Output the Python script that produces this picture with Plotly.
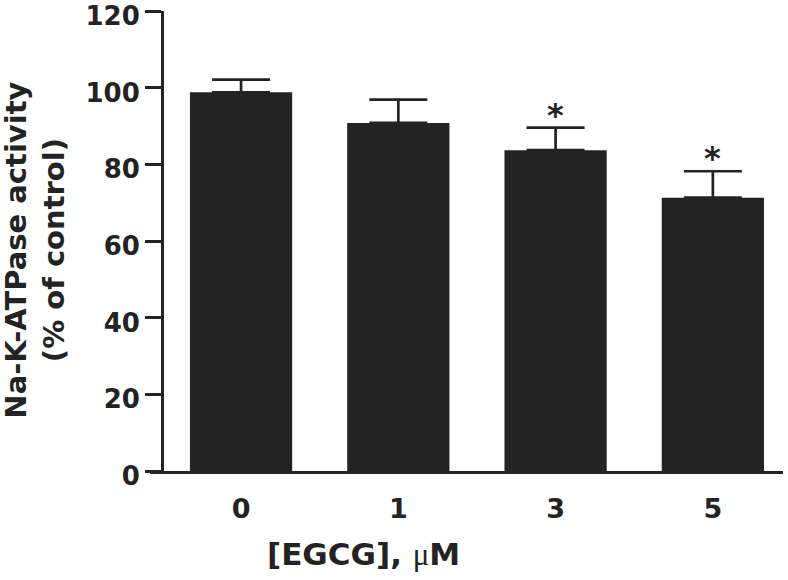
import plotly.graph_objects as go

doses = ["0", "1", "3", "5"]
means = [98.8, 90.8, 83.7, 71.3]
errs = [3.3, 6.1, 5.9, 6.9]
significant = [False, False, True, True]
y_ticks = [0, 20, 40, 60, 80, 100, 120]

INK = "#232323"
FONT = "DejaVu Sans, Liberation Sans, Arial, sans-serif"

fig = go.Figure()
fig.add_trace(go.Bar(
    x=doses, y=means, width=0.65,
    marker=dict(color=INK, line=dict(width=0)),
    error_y=dict(type="data", array=errs, arrayminus=[0] * len(errs), symmetric=False,
                 color=INK, thickness=2.7, width=29),
    showlegend=False,
))

for i, (m, e, s) in enumerate(zip(means, errs, significant)):
    if s:
        fig.add_annotation(x=i, y=m + e, text="<b>*</b>", showarrow=False,
                           yanchor="bottom", yshift=-8,
                           font=dict(family=FONT, size=32, color=INK))

fig.add_annotation(
    xref="paper", yref="paper", x=0.337, y=-0.18, xanchor="center", yanchor="middle",
    text="<b>[EGCG], </b><span style=\"font-family:'Liberation Serif';font-weight:normal\">μ</span><b>M</b>",
    showarrow=False, font=dict(family=FONT, size=31, color=INK))

fig.add_annotation(
    xref="paper", yref="paper", x=-0.181, y=0.48, xanchor="center", yanchor="middle",
    textangle=-90, text="<b>Na-K-ATPase activity<br>(% of control)</b>",
    showarrow=False, font=dict(family=FONT, size=29, color=INK))

fig.update_layout(
    width=788, height=580,
    margin=dict(l=150, r=5, t=11, b=109),
    plot_bgcolor="white", paper_bgcolor="white",
    xaxis=dict(type="category", range=[-0.579, 3.446], showline=True, linewidth=3,
               linecolor=INK, ticks="", showgrid=False, zeroline=False,
               ticklabelstandoff=12, automargin=False,
               tickfont=dict(family=FONT, size=27, color=INK, weight="bold")),
    yaxis=dict(range=[0, 120], tickvals=y_ticks, showline=True, linewidth=3,
               linecolor=INK, ticks="outside", ticklen=16, tickwidth=3, tickcolor=INK,
               showgrid=False, zeroline=False, anchor="free", position=0.019,
               ticklabeloverflow="allow", ticklabelstandoff=0, ticklabelshift=5,
               automargin=False,
               tickfont=dict(family=FONT, size=26, color=INK, weight="bold")),
)

fig.write_html("out.html", config={"displayModeBar": False},
               post_script="document.body.style.margin='0';")
